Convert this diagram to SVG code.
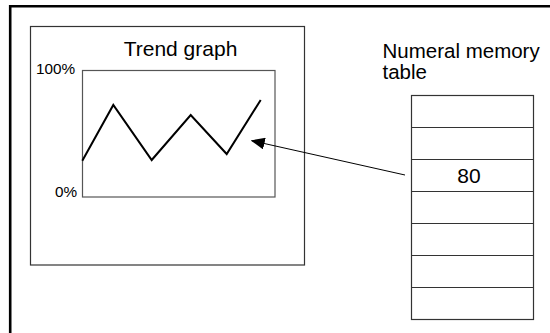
<svg xmlns="http://www.w3.org/2000/svg" width="550" height="333" viewBox="0 0 550 333">
<defs>
<style>
.box{fill:none;stroke:#333;stroke-width:1.2}
.gbox{fill:none;stroke:#555;stroke-width:1.2}
.t{font-family:"Liberation Sans",Arial,sans-serif;fill:#000}
</style>
<marker id="ah" markerWidth="14" markerHeight="12" refX="13" refY="6" orient="auto" markerUnits="userSpaceOnUse">
<path d="M0,0 L14,6 L0,12 Z" fill="#000"/>
</marker>
</defs>
<rect width="550" height="333" fill="#fff"/>
<path d="M10.2,340 V6.2 H560" fill="none" stroke="#000" stroke-width="2.6"/>
<g id="trend">
<rect class="box" x="30.5" y="26.5" width="274" height="238.5"/>
<text class="t" x="180.5" y="56" font-size="21" text-anchor="middle">Trend graph</text>
<rect class="gbox" x="82.5" y="70.5" width="192.5" height="126.5"/>
<text class="t" x="75" y="73.5" font-size="15.3" text-anchor="end">100%</text>
<text class="t" x="77" y="197" font-size="15.3" text-anchor="end">0%</text>
<polyline points="82.3,160.7 113.3,105 151.7,160 190.7,115 226.7,154 260.7,100" fill="none" stroke="#000" stroke-width="2"/>
</g>
<g id="table">
<text class="t" font-size="20.5"><tspan x="382.5" y="58.3">Numeral memory</tspan><tspan x="382.5" y="79">table</tspan></text>
<rect class="box" x="411.5" y="95.5" width="122" height="224"/>
<path class="box" d="M411.5,127.5 H533.5 M411.5,159.5 H533.5 M411.5,191.5 H533.5 M411.5,223.5 H533.5 M411.5,255.5 H533.5 M411.5,287.5 H533.5"/>
<text class="t" x="469" y="182.5" font-size="21" text-anchor="middle">80</text>
</g>
<g id="connectors">
<line x1="405" y1="175" x2="251.7" y2="140.7" stroke="#000" stroke-width="1" marker-end="url(#ah)"/>
</g>
</svg>
